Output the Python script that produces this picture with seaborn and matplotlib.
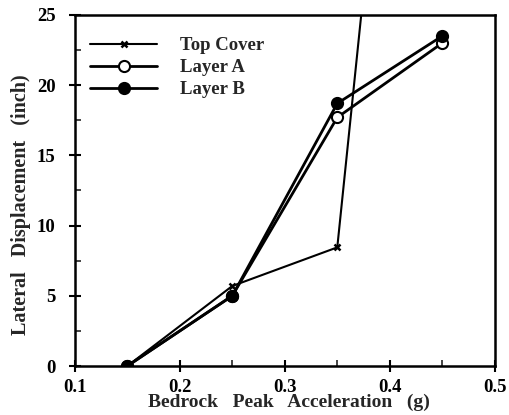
import matplotlib
matplotlib.use("Agg")
import matplotlib.pyplot as plt
import seaborn as sns
import pandas as pd
from matplotlib.ticker import MultipleLocator

sns.set_theme(style="ticks")
plt.rcParams['font.family'] = ['Liberation Serif', 'DejaVu Serif']
plt.rcParams['font.weight'] = 'bold'

accel = [0.15, 0.25, 0.35, 0.45]
top_cover = [0.0, 5.7, 8.45, 81.0]
layer_a = [0.0, 5.0, 17.7, 23.0]
layer_b = [0.0, 5.0, 18.7, 23.5]
series_names = ["Top Cover", "Layer A", "Layer B"]

df = pd.DataFrame({
    "accel": accel * 3,
    "disp": top_cover + layer_a + layer_b,
    "series": sum([[n] * len(accel) for n in series_names], []),
})

fig = plt.figure(figsize=(5.09, 4.15), dpi=100)
ax = fig.add_axes([0.147, 0.118, 0.825, 0.846])

styles = {
    "Top Cover": dict(marker="x", markersize=5, markerfacecolor="black", markeredgewidth=1.8, linewidth=1.5),
    "Layer A": dict(marker="o", markersize=8, markerfacecolor="white", markeredgewidth=1.5, linewidth=2.0),
    "Layer B": dict(marker="o", markersize=8, markerfacecolor="black", markeredgewidth=1.5, linewidth=2.0),
}
for name in series_names:
    sub = df[df["series"] == name]
    sns.lineplot(data=sub, x="accel", y="disp", ax=ax, color="black",
                 markeredgecolor="black", label=name, **styles[name])

ax.set_xlim(0.1, 0.5)
ax.set_ylim(0, 25)
ax.xaxis.set_minor_locator(MultipleLocator(0.05))
ax.yaxis.set_major_locator(MultipleLocator(5))
ax.yaxis.set_minor_locator(MultipleLocator(2.5))
ax.set_xticks([0.1, 0.2, 0.3, 0.4, 0.5])
ax.set_xticklabels(["0.1", "0.2", "0.3", "0.4", "0.5"])
ax.tick_params(axis="both", which="major", direction="inout", length=8, width=1.5,
               labelsize=13.5, colors="black")
ax.tick_params(axis="x", which="major", pad=5)
ax.tick_params(axis="y", which="major", pad=10)
ax.tick_params(axis="both", which="minor", direction="in", length=4, width=1.2)
for lab in ax.get_xticklabels() + ax.get_yticklabels():
    lab.set_fontweight("bold")
for s in ax.spines.values():
    s.set_linewidth(1.8)
    s.set_color("black")

ax.set_xlabel("Bedrock   Peak   Acceleration   (g)", fontsize=14, fontweight="bold")
ax.xaxis.set_label_coords(0.51, -0.079)
ax.set_ylabel("Lateral   Displacement   (inch)", fontsize=14.5, fontweight="bold")
ax.yaxis.set_label_coords(-0.105, 0.459)

leg = ax.legend(loc="upper left", frameon=False, fontsize=13.5, handlelength=3.6,
                handletextpad=1.2, labelspacing=0.25, borderaxespad=0.4,
                bbox_to_anchor=(0.0, 0.979))
for t in leg.get_texts():
    t.set_fontweight("bold")

fig.savefig("out.png", dpi=100)
